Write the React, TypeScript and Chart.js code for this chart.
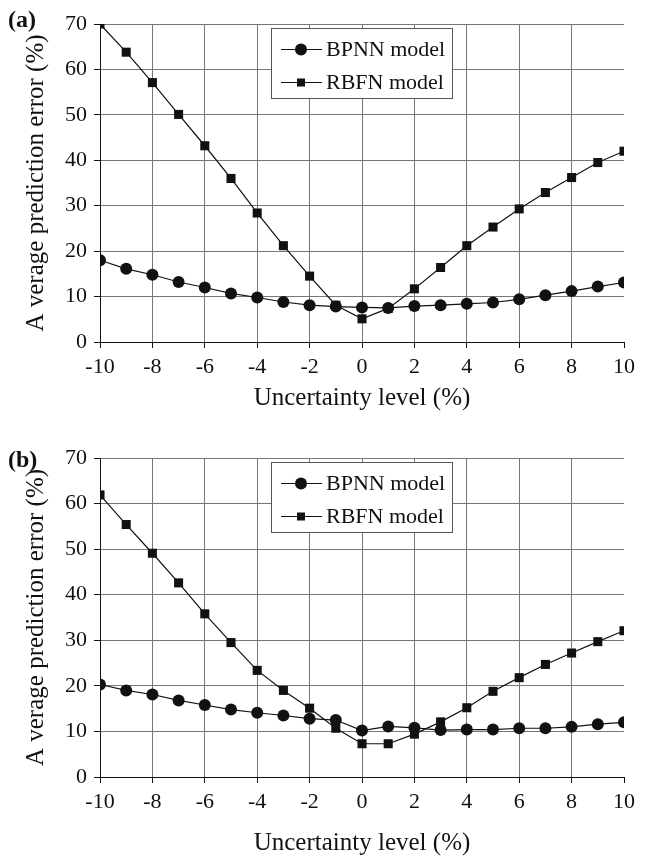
import React, { useEffect, useRef } from "react";
import { Chart, registerables } from "chart.js";

Chart.register(...registerables);

// ---- Data ----
const X_VALUES = [-10, -9, -8, -7, -6, -5, -4, -3, -2, -1, 0, 1, 2, 3, 4, 5, 6, 7, 8, 9, 10];

const A_BPNN = [18.0, 16.1, 14.8, 13.2, 12.0, 10.7, 9.8, 8.8, 8.1, 7.8, 7.6, 7.5, 7.9, 8.1, 8.4, 8.7, 9.4, 10.3, 11.2, 12.2, 13.1];
const A_RBFN = [70.0, 63.8, 57.1, 50.1, 43.2, 36.0, 28.4, 21.2, 14.5, 8.1, 5.1, 7.4, 11.7, 16.4, 21.2, 25.3, 29.3, 32.9, 36.2, 39.5, 42.0];

const B_BPNN = [20.3, 19.0, 18.1, 16.8, 15.8, 14.8, 14.1, 13.5, 12.8, 12.5, 10.2, 11.1, 10.8, 10.3, 10.4, 10.4, 10.7, 10.7, 11.0, 11.6, 12.0];
const B_RBFN = [61.9, 55.4, 49.1, 42.6, 35.8, 29.5, 23.4, 19.0, 15.1, 10.7, 7.3, 7.3, 9.4, 12.1, 15.2, 18.8, 21.8, 24.7, 27.2, 29.7, 32.1];

const SERIES_NAMES = ["BPNN model", "RBFN model"];
const X_TITLE = "Uncertainty level (%)";
const Y_TITLE = "A verage prediction error (%)";
const X_MIN = -10;
const X_MAX = 10;
const X_STEP = 2;
const Y_MIN = 0;
const Y_MAX = 70;
const Y_STEP = 10;

const FONT = "'Liberation Serif', 'Times New Roman', serif";
const GRID = "#777";

type PanelProps = {
  label: string;
  bpnn: number[];
  rbfn: number[];
  height: number;
  top: number;
  xAxisHeight: number;
  xTitlePadBottom: number;
  labelY: number;
};

function makeLegendPlugin() {
  return {
    id: "boxLegend",
    afterDraw(chart: any) {
      const ctx = chart.ctx as CanvasRenderingContext2D;
      const left = 271.5, top = 28.5, w = 181, h = 70;
      ctx.save();
      ctx.fillStyle = "#fff";
      ctx.fillRect(left, top, w, h);
      ctx.strokeStyle = "#555";
      ctx.lineWidth = 1;
      ctx.strokeRect(left, top, w, h);
      const rows = [49, 82];
      rows.forEach((ry, i) => {
        ctx.strokeStyle = "#111";
        ctx.lineWidth = 1.2;
        ctx.beginPath();
        ctx.moveTo(281, ry + 0.5);
        ctx.lineTo(322, ry + 0.5);
        ctx.stroke();
        ctx.fillStyle = "#111";
        if (i === 0) {
          ctx.beginPath();
          ctx.arc(301, ry + 0.5, 6, 0, Math.PI * 2);
          ctx.fill();
        } else {
          ctx.fillRect(297, ry - 3.5, 8, 8);
        }
        ctx.fillStyle = "#111";
        ctx.font = `22px ${FONT}`;
        ctx.textBaseline = "middle";
        ctx.textAlign = "left";
        ctx.fillText(SERIES_NAMES[i], 326, ry + 1);
      });
      ctx.restore();
    },
  };
}

function makeLabelPlugin(label: string, y: number) {
  return {
    id: "panelLabel",
    afterDraw(chart: any) {
      const ctx = chart.ctx as CanvasRenderingContext2D;
      ctx.save();
      ctx.fillStyle = "#111";
      ctx.font = `bold 24px ${FONT}`;
      ctx.textBaseline = "middle";
      ctx.textAlign = "left";
      ctx.fillText(label, 8, y);
      ctx.restore();
    },
  };
}

function Panel(props: PanelProps) {
  const ref = useRef<HTMLCanvasElement | null>(null);
  useEffect(() => {
    if (!ref.current) return;
    const toPts = (arr: number[]) => X_VALUES.map((x, i) => ({ x, y: arr[i] }));
    const chart = new Chart(ref.current, {
      type: "line",
      data: {
        datasets: [
          {
            label: SERIES_NAMES[0],
            data: toPts(props.bpnn),
            borderColor: "#111",
            backgroundColor: "#111",
            borderWidth: 1.2,
            pointStyle: "circle",
            pointRadius: 6,
            pointBorderWidth: 0,
            pointBackgroundColor: "#111",
            tension: 0,
          },
          {
            label: SERIES_NAMES[1],
            data: toPts(props.rbfn),
            borderColor: "#111",
            backgroundColor: "#111",
            borderWidth: 1.2,
            pointStyle: "rect",
            pointRadius: 6.4,
            pointBorderWidth: 0,
            pointBackgroundColor: "#111",
            tension: 0,
          },
        ],
      },
      options: {
        animation: false,
        responsive: false,
        devicePixelRatio: 1,
        layout: { padding: { left: 0, right: 24, top: 24, bottom: 0 } },
        plugins: {
          legend: { display: false },
          tooltip: { enabled: false },
        },
        scales: {
          x: {
            type: "linear",
            min: X_MIN,
            max: X_MAX,
            afterFit: (scale: any) => {
              scale.height = props.xAxisHeight;
            },
            ticks: {
              stepSize: X_STEP,
              color: "#111",
              font: { family: FONT, size: 22 },
              padding: 6,
            },
            grid: {
              color: (c: any) => (c.tick && c.tick.value === X_MAX ? "rgba(0,0,0,0)" : GRID),
              tickColor: "#111",
              tickLength: 6,
              lineWidth: 1,
            },
            border: { color: "#111", width: 1 },
            title: {
              display: true,
              text: X_TITLE,
              color: "#111",
              font: { family: FONT, size: 25, lineHeight: 1 },
              padding: { top: 0, bottom: props.xTitlePadBottom },
            },
          },
          y: {
            type: "linear",
            min: Y_MIN,
            max: Y_MAX,
            afterFit: (scale: any) => {
              scale.width = 100;
            },
            ticks: {
              stepSize: Y_STEP,
              color: "#111",
              font: { family: FONT, size: 22 },
              padding: 7,
            },
            grid: {
              color: GRID,
              tickColor: "#111",
              tickLength: 6,
              lineWidth: 1,
            },
            border: { color: "#111", width: 1 },
            title: {
              display: true,
              text: Y_TITLE,
              color: "#111",
              font: { family: FONT, size: 25, lineHeight: 1 },
              padding: { top: 23.5, bottom: 0 },
            },
          },
        },
      },
      plugins: [makeLegendPlugin(), makeLabelPlugin(props.label, props.labelY)],
    } as any);
    return () => chart.destroy();
  }, []);
  return (
    <canvas
      ref={ref}
      width={648}
      height={props.height}
      style={{ position: "absolute", left: 0, top: props.top, width: 648, height: props.height }}
    />
  );
}

export default function App() {
  useEffect(() => {
    document.body.style.margin = "0";
    document.body.style.background = "#fff";
  }, []);
  return (
    <div style={{ position: "relative", width: 648, height: 856, background: "#fff" }}>
      <Panel label="(a)" bpnn={A_BPNN} rbfn={A_RBFN} height={434} top={0} xAxisHeight={92} xTitlePadBottom={23.5} labelY={21} />
      <Panel label="(b)" bpnn={B_BPNN} rbfn={B_RBFN} height={422} top={434} xAxisHeight={79} xTitlePadBottom={0.5} labelY={27} />
    </div>
  );
}
